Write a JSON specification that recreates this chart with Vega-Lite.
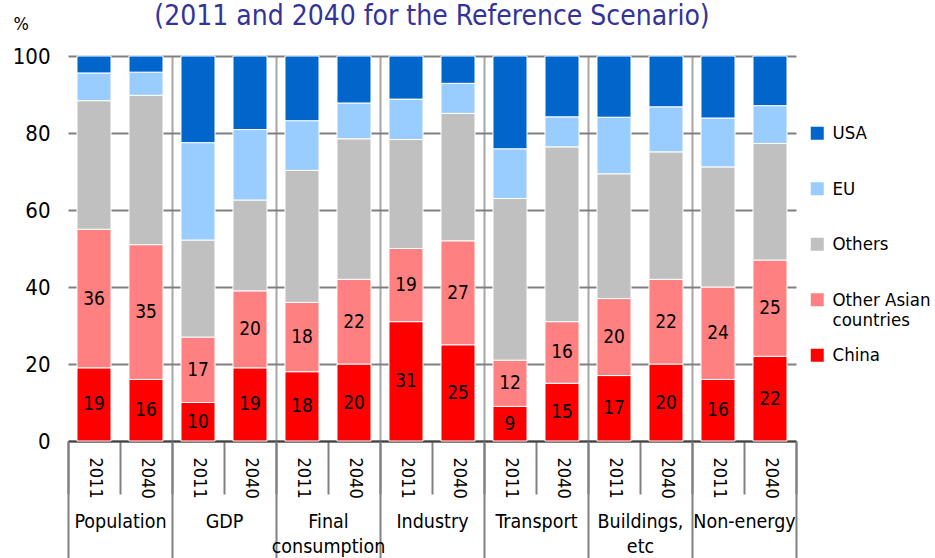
{
  "$schema": "https://vega.github.io/schema/vega-lite/v6.json",
  "width": 728,
  "height": 385,
  "autosize": {"type": "none"},
  "padding": {"left": 68, "top": 56, "right": 139, "bottom": 117},
  "title": {
    "text": "(2011 and 2040 for the Reference Scenario)",
    "anchor": "middle",
    "fontSize": 28,
    "fontWeight": "normal",
    "color": "#333399",
    "baseline": "alphabetic",
    "offset": -38
  },
  "config": {
    "font": "DejaVu Sans Condensed, DejaVu Sans",
    "view": {"stroke": null},
    "axis": {"labelColor": "black", "titleColor": "black"}
  },
  "data": {
    "values": [
      {"sector": "Population", "year": "2011", "series": "China", "share": 19},
      {"sector": "Population", "year": "2011", "series": "Other Asian countries", "share": 36},
      {"sector": "Population", "year": "2011", "series": "Others", "share": 33.4},
      {"sector": "Population", "year": "2011", "series": "EU", "share": 7.2},
      {"sector": "Population", "year": "2011", "series": "USA", "share": 4.4},
      {"sector": "Population", "year": "2040", "series": "China", "share": 16},
      {"sector": "Population", "year": "2040", "series": "Other Asian countries", "share": 35},
      {"sector": "Population", "year": "2040", "series": "Others", "share": 38.8},
      {"sector": "Population", "year": "2040", "series": "EU", "share": 6.0},
      {"sector": "Population", "year": "2040", "series": "USA", "share": 4.2},
      {"sector": "GDP", "year": "2011", "series": "China", "share": 10},
      {"sector": "GDP", "year": "2011", "series": "Other Asian countries", "share": 17},
      {"sector": "GDP", "year": "2011", "series": "Others", "share": 25.2},
      {"sector": "GDP", "year": "2011", "series": "EU", "share": 25.3},
      {"sector": "GDP", "year": "2011", "series": "USA", "share": 22.5},
      {"sector": "GDP", "year": "2040", "series": "China", "share": 19},
      {"sector": "GDP", "year": "2040", "series": "Other Asian countries", "share": 20},
      {"sector": "GDP", "year": "2040", "series": "Others", "share": 23.6},
      {"sector": "GDP", "year": "2040", "series": "EU", "share": 18.3},
      {"sector": "GDP", "year": "2040", "series": "USA", "share": 19.1},
      {"sector": "Final consumption", "year": "2011", "series": "China", "share": 18},
      {"sector": "Final consumption", "year": "2011", "series": "Other Asian countries", "share": 18},
      {"sector": "Final consumption", "year": "2011", "series": "Others", "share": 34.3},
      {"sector": "Final consumption", "year": "2011", "series": "EU", "share": 12.9},
      {"sector": "Final consumption", "year": "2011", "series": "USA", "share": 16.8},
      {"sector": "Final consumption", "year": "2040", "series": "China", "share": 20},
      {"sector": "Final consumption", "year": "2040", "series": "Other Asian countries", "share": 22},
      {"sector": "Final consumption", "year": "2040", "series": "Others", "share": 36.5},
      {"sector": "Final consumption", "year": "2040", "series": "EU", "share": 9.3},
      {"sector": "Final consumption", "year": "2040", "series": "USA", "share": 12.2},
      {"sector": "Industry", "year": "2011", "series": "China", "share": 31},
      {"sector": "Industry", "year": "2011", "series": "Other Asian countries", "share": 19},
      {"sector": "Industry", "year": "2011", "series": "Others", "share": 28.3},
      {"sector": "Industry", "year": "2011", "series": "EU", "share": 10.5},
      {"sector": "Industry", "year": "2011", "series": "USA", "share": 11.2},
      {"sector": "Industry", "year": "2040", "series": "China", "share": 25},
      {"sector": "Industry", "year": "2040", "series": "Other Asian countries", "share": 27},
      {"sector": "Industry", "year": "2040", "series": "Others", "share": 33.1},
      {"sector": "Industry", "year": "2040", "series": "EU", "share": 7.8},
      {"sector": "Industry", "year": "2040", "series": "USA", "share": 7.1},
      {"sector": "Transport", "year": "2011", "series": "China", "share": 9},
      {"sector": "Transport", "year": "2011", "series": "Other Asian countries", "share": 12},
      {"sector": "Transport", "year": "2011", "series": "Others", "share": 42.0},
      {"sector": "Transport", "year": "2011", "series": "EU", "share": 12.9},
      {"sector": "Transport", "year": "2011", "series": "USA", "share": 24.1},
      {"sector": "Transport", "year": "2040", "series": "China", "share": 15},
      {"sector": "Transport", "year": "2040", "series": "Other Asian countries", "share": 16},
      {"sector": "Transport", "year": "2040", "series": "Others", "share": 45.4},
      {"sector": "Transport", "year": "2040", "series": "EU", "share": 7.8},
      {"sector": "Transport", "year": "2040", "series": "USA", "share": 15.8},
      {"sector": "Buildings, etc", "year": "2011", "series": "China", "share": 17},
      {"sector": "Buildings, etc", "year": "2011", "series": "Other Asian countries", "share": 20},
      {"sector": "Buildings, etc", "year": "2011", "series": "Others", "share": 32.4},
      {"sector": "Buildings, etc", "year": "2011", "series": "EU", "share": 14.7},
      {"sector": "Buildings, etc", "year": "2011", "series": "USA", "share": 15.9},
      {"sector": "Buildings, etc", "year": "2040", "series": "China", "share": 20},
      {"sector": "Buildings, etc", "year": "2040", "series": "Other Asian countries", "share": 22},
      {"sector": "Buildings, etc", "year": "2040", "series": "Others", "share": 33.1},
      {"sector": "Buildings, etc", "year": "2040", "series": "EU", "share": 11.7},
      {"sector": "Buildings, etc", "year": "2040", "series": "USA", "share": 13.2},
      {"sector": "Non-energy", "year": "2011", "series": "China", "share": 16},
      {"sector": "Non-energy", "year": "2011", "series": "Other Asian countries", "share": 24},
      {"sector": "Non-energy", "year": "2011", "series": "Others", "share": 31.2},
      {"sector": "Non-energy", "year": "2011", "series": "EU", "share": 12.7},
      {"sector": "Non-energy", "year": "2011", "series": "USA", "share": 16.1},
      {"sector": "Non-energy", "year": "2040", "series": "China", "share": 22},
      {"sector": "Non-energy", "year": "2040", "series": "Other Asian countries", "share": 25},
      {"sector": "Non-energy", "year": "2040", "series": "Others", "share": 30.3},
      {"sector": "Non-energy", "year": "2040", "series": "EU", "share": 9.8},
      {"sector": "Non-energy", "year": "2040", "series": "USA", "share": 12.9}
    ]
  },
  "transform": [
    {"calculate": "datum.sector + '|' + datum.year", "as": "bar"},
    {"calculate": "indexof(['China','Other Asian countries','Others','EU','USA'], datum.series)", "as": "rank"}
  ],
  "layer": [
    {
      "mark": {"type": "bar", "width": {"band": 0.654}, "stroke": "white", "strokeWidth": 1},
      "encoding": {
        "x": {
          "field": "bar", "type": "nominal",
          "scale": {
            "domain": ["Population|2011", "Population|2040", "GDP|2011", "GDP|2040", "Final consumption|2011", "Final consumption|2040", "Industry|2011", "Industry|2040", "Transport|2011", "Transport|2040", "Buildings, etc|2011", "Buildings, etc|2040", "Non-energy|2011", "Non-energy|2040"],
            "paddingInner": 0, "paddingOuter": 0
          },
          "axis": {
            "orient": "bottom", "title": null,
            "labelExpr": "split(datum.value, '|')[1]",
            "labelAngle": 90, "labelAlign": "left", "labelBaseline": "middle",
            "labelPadding": -37, "labelFontSize": 18, "labelOverlap": false, "labelBound": false,
            "tickBand": "extent", "ticks": true, "tickSize": 53, "tickColor": "#808080", "tickWidth": 2,
            "domain": true, "domainColor": "#404040", "domainWidth": 2, "grid": false
          }
        },
        "y": {
          "field": "share", "type": "quantitative", "stack": "zero",
          "scale": {"domain": [0, 100], "nice": false},
          "axis": {
            "title": "%", "titleAngle": 0, "titleX": -55, "titleY": -32, "titleAlign": "left", "titleBaseline": "middle",
            "titleFontSize": 18, "titleFontWeight": "normal",
            "values": [0, 20, 40, 60, 80, 100], "labelFontSize": 22, "labelPadding": 18,
            "ticks": false, "domain": false, "grid": true, "gridColor": "#808080", "gridWidth": 2
          }
        },
        "color": {
          "field": "series", "type": "nominal",
          "scale": {
            "domain": ["USA", "EU", "Others", "Other Asian countries", "China"],
            "range": ["#0066CC", "#99CCFF", "#C0C0C0", "#FF8080", "#FF0000"]
          },
          "legend": {
            "orient": "none", "legendX": 740, "legendY": 68, "padding": 0,
            "title": null, "symbolType": "square", "symbolSize": 169, "symbolStrokeWidth": 0,
            "labelFontSize": 18.5, "labelOffset": 6, "rowPadding": 15.5, "labelColor": "black",
            "labelExpr": "datum.label == 'Other Asian countries' ? ['Other Asian', 'countries'] : [datum.label, ' ']",
            "labelLimit": 300
          }
        },
        "order": {"field": "rank", "type": "quantitative"}
      }
    },
    {
      "transform": [
        {"stack": "share", "groupby": ["bar"], "sort": [{"field": "rank", "order": "ascending"}], "as": ["lo", "hi"]},
        {"filter": "datum.rank <= 1"},
        {"calculate": "(datum.lo + datum.hi) / 2", "as": "mid"}
      ],
      "mark": {"type": "text", "fontSize": 19, "color": "black"},
      "encoding": {
        "x": {
          "field": "bar", "type": "nominal",
          "scale": {
            "domain": ["Population|2011", "Population|2040", "GDP|2011", "GDP|2040", "Final consumption|2011", "Final consumption|2040", "Industry|2011", "Industry|2040", "Transport|2011", "Transport|2040", "Buildings, etc|2011", "Buildings, etc|2040", "Non-energy|2011", "Non-energy|2040"],
            "paddingInner": 0, "paddingOuter": 0
          },
          "axis": {
            "orient": "bottom", "title": null,
            "labelExpr": "test(/2011$/, datum.value) ? (test(/^Final/, datum.value) ? ['Final', 'consumption'] : (test(/^Buildings/, datum.value) ? ['Buildings,', 'etc'] : split(datum.value, '|')[0])) : ''",
            "labelAngle": 0, "labelAlign": "center", "labelBaseline": "top", "labelOffset": 26,
            "labelPadding": -46, "labelFontSize": 19.5, "labelLineHeight": 25, "labelOverlap": false, "labelBound": false,
            "tickBand": "extent", "ticks": true, "tickSize": 117, "tickWidth": 2,
            "tickColor": {"condition": {"test": "!datum.value || test(/2040$/, datum.value)", "value": "#808080"}, "value": "transparent"},
            "domain": false,
            "grid": true, "gridColor": "#A6A6A6", "gridWidth": 2,
            "gridOpacity": {"condition": {"test": "datum.value && test(/2040$/, datum.value) && datum.value != 'Non-energy|2040'", "value": 1}, "value": 0}
          }
        },
        "y": {
          "field": "mid", "type": "quantitative",
          "scale": {"domain": [0, 100], "nice": false},
          "axis": {
            "title": "%", "titleAngle": 0, "titleX": -55, "titleY": -32, "titleAlign": "left", "titleBaseline": "middle",
            "titleFontSize": 18, "titleFontWeight": "normal",
            "values": [0, 20, 40, 60, 80, 100], "labelFontSize": 22, "labelPadding": 18,
            "ticks": false, "domain": false, "grid": true, "gridColor": "#808080", "gridWidth": 2
          }
        },
        "text": {"field": "share", "type": "quantitative", "format": "d"}
      }
    }
  ],
  "resolve": {"axis": {"x": "independent"}}
}
